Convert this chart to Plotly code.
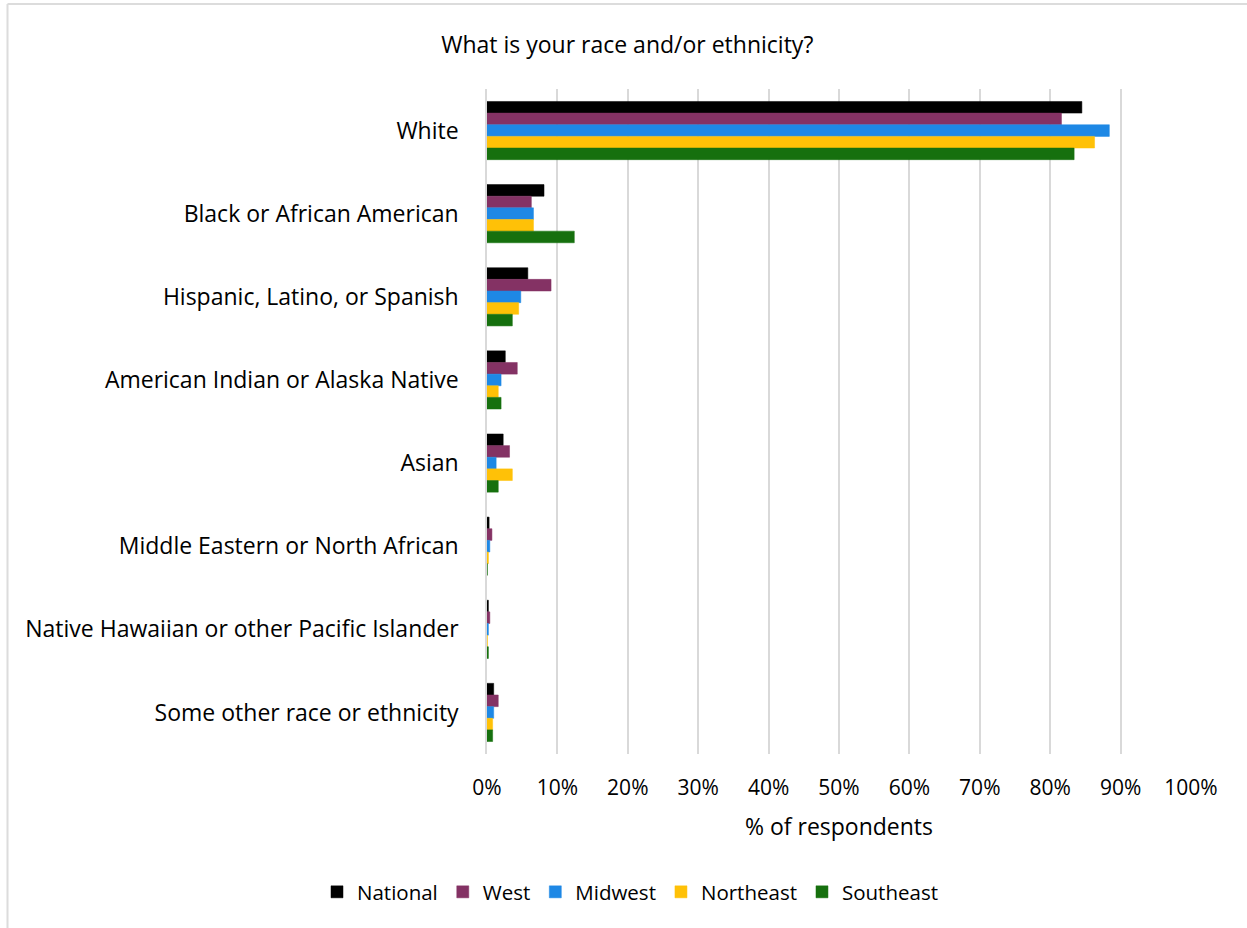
import plotly.graph_objects as go

categories = [
    "White",
    "Black or African American",
    "Hispanic, Latino, or Spanish",
    "American Indian or Alaska Native",
    "Asian",
    "Middle Eastern or North African",
    "Native Hawaiian or other Pacific Islander",
    "Some other race or ethnicity",
]
national = [84.5, 8.1, 5.8, 2.6, 2.3, 0.3, 0.2, 0.95]
west = [81.6, 6.3, 9.1, 4.3, 3.2, 0.7, 0.4, 1.6]
midwest = [88.4, 6.6, 4.8, 2.0, 1.3, 0.4, 0.2, 0.95]
northeast = [86.3, 6.6, 4.5, 1.6, 3.6, 0.2, 0.05, 0.8]
southeast = [83.4, 12.4, 3.6, 2.0, 1.6, 0.05, 0.2, 0.8]

series = [
    ("National", national, "#000000"),
    ("West", west, "#843264"),
    ("Midwest", midwest, "#1E88E5"),
    ("Northeast", northeast, "#FFC107"),
    ("Southeast", southeast, "#16700E"),
]

fig = go.Figure()
for name, vals, col in series:
    fig.add_trace(go.Bar(
        y=categories, x=vals, name=name, orientation="h",
        marker=dict(color=col, line=dict(color=col, width=0.5)),
    ))

W, H = 1247, 928
L, T, R, B = 487, 89, 56, 174
pw, ph = W - L - R, H - T - B


def px_x(x):
    return (x - L) / pw


def px_y(y):
    return (H - B - y) / ph


font_family = "Open Sans, Noto Sans, sans-serif"
fig.update_layout(
    width=W, height=H,
    barmode="group", bargap=0.3, bargroupgap=0,
    paper_bgcolor="white", plot_bgcolor="white",
    margin=dict(l=L, r=R, t=T, b=B),
    font=dict(family=font_family, size=20, color="#000000"),
    title=dict(text="What is your race and/or ethnicity?", x=0.503, xanchor="center",
               y=1 - 45 / H, yanchor="middle", yref="container",
               font=dict(size=23, color="#000000")),
    xaxis=dict(range=[0, 100], dtick=10, ticksuffix="%", showgrid=True,
               gridcolor="#d9d9d9", gridwidth=1.5, zeroline=False,
               showline=False, ticks="", tickfont=dict(size=21),
               ticklabelstandoff=19,
               title=dict(text="% of respondents", font=dict(size=23), standoff=18)),
    yaxis=dict(autorange="reversed", showgrid=False, ticks="", showline=True,
               linecolor="#d9d9d9", linewidth=1.5, tickfont=dict(size=23),
               ticklabelstandoff=22),
    legend=dict(orientation="h", x=px_x(630), xanchor="center", y=px_y(892), yanchor="middle",
                font=dict(size=20.5), traceorder="normal", itemwidth=30),
    shapes=[
        dict(type="line", xref="paper", yref="paper",
             x0=px_x(7.5), x1=px_x(1247), y0=px_y(4), y1=px_y(4),
             line=dict(color="#dcdcdc", width=2), layer="below"),
        dict(type="line", xref="paper", yref="paper",
             x0=px_x(7.5), x1=px_x(7.5), y0=px_y(4), y1=px_y(928),
             line=dict(color="#dcdcdc", width=2), layer="below"),
    ],
)

fig.write_html("out.html", config={"displayModeBar": False},
               post_script="document.body.style.margin='0';")
